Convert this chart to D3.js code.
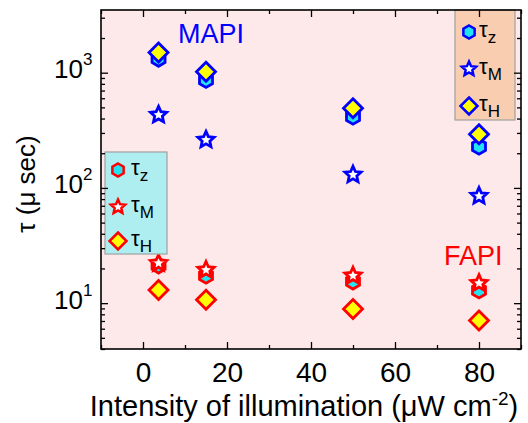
<!DOCTYPE html>
<html>
<head>
<meta charset="utf-8">
<script src="https://cdn.jsdelivr.net/npm/d3@7"></script>
<style>
  body { margin: 0; background: #fff; }
  svg { font-family: "Liberation Sans", Arial, sans-serif; }
</style>
</head>
<body>
<svg id="chart" width="528" height="423"></svg>
<script>
// data
var intensity = [3.7, 15, 50, 80];
var mapiTauZ = [1320, 865, 415, 228];
var mapiTauM = [430, 261, 130, 85];
var mapiTauH = [1500, 1020, 491, 292];
var fapiTauZ = [21.2, 17.3, 15.4, 12.9];
var fapiTauM = [22.2, 19.4, 17.3, 14.9];
var fapiTauH = [13.0, 10.7, 8.9, 7.07];
var xTicks = [0, 20, 40, 60, 80];
var yTicks = [10, 100, 1000];

var margin = {top: 10, right: 7, bottom: 74, left: 101};
var width = 528 - margin.left - margin.right,
    height = 423 - margin.top - margin.bottom;

var svg = d3.select("#chart");
var g = svg.append("g")
  .attr("transform", "translate(" + margin.left + "," + margin.top + ")");

var x = d3.scaleLinear().domain([-10, 90]).range([0, width]);
var y = d3.scaleLog().domain([4, 3500]).range([height, 0]);

// background
g.append("rect")
  .attr("width", width).attr("height", height)
  .attr("fill", "#fde9e9");

// marker shapes
function hexagon(r) {
  var p = [];
  for (var i = 0; i < 6; i++) {
    var a = Math.PI / 3 * i - Math.PI / 2;
    p.push([r * Math.cos(a), r * Math.sin(a)]);
  }
  return "M" + p.join("L") + "Z";
}
function diamond(r) {
  return "M0," + (-r) + "L" + r + ",0L0," + r + "L" + (-r) + ",0Z";
}
function star(r) {
  var p = [], ri = r * 0.47;
  for (var i = 0; i < 10; i++) {
    var a = Math.PI / 5 * i - Math.PI / 2;
    var rr = i % 2 ? ri : r;
    p.push([rr * Math.cos(a), rr * Math.sin(a)]);
  }
  return "M" + p.join("L") + "Z";
}

var series = [
  {vals: fapiTauZ, path: hexagon(7.5), fill: "#22e4f0", stroke: "#ff0000"},
  {vals: fapiTauM, path: star(8.5), fill: "#ffffff", stroke: "#ff0000"},
  {vals: fapiTauH, path: diamond(9.5), fill: "#ffff00", stroke: "#ff0000"},
  {vals: mapiTauZ, path: hexagon(7.5), fill: "#22e4f0", stroke: "#0000ff"},
  {vals: mapiTauM, path: star(8.5), fill: "#ffffff", stroke: "#0000ff"},
  {vals: mapiTauH, path: diamond(9.5), fill: "#ffff00", stroke: "#0000ff"}
];

series.forEach(function(s) {
  g.append("g").selectAll("path")
    .data(s.vals)
    .enter().append("path")
    .attr("d", s.path)
    .attr("transform", function(d, i) { return "translate(" + x(intensity[i]) + "," + y(d) + ")"; })
    .attr("fill", s.fill)
    .attr("stroke", s.stroke)
    .attr("stroke-width", 2.8);
});

// legends
function legend(lx, ly, w, h, bg, stroke, symX, textX, rows) {
  var lg = g.append("g");
  lg.append("rect")
    .attr("x", lx).attr("y", ly).attr("width", w).attr("height", h)
    .attr("fill", bg).attr("stroke", "#a0a0a0").attr("stroke-width", 1.2);
  var items = [
    {path: hexagon(6.5), fill: "#22e4f0", sub: "z"},
    {path: star(7.5), fill: "#ffffff", sub: "M"},
    {path: diamond(8.5), fill: "#ffff00", sub: "H"}
  ];
  items.forEach(function(it, i) {
    lg.append("path")
      .attr("d", it.path)
      .attr("transform", "translate(" + symX + "," + rows[i] + ")")
      .attr("fill", it.fill).attr("stroke", stroke).attr("stroke-width", 2.5);
    var t = lg.append("text")
      .attr("x", textX).attr("y", rows[i] + 5)
      .attr("font-size", 22).attr("fill", "#000");
    t.append("tspan").text("\u03c4");
    t.append("tspan").attr("dy", 6).attr("font-size", 17).text(it.sub);
  });
}
legend(4, 142, 62, 102, "#aeeef0", "#ff0000", 17, 30, [160, 197, 231]);
legend(354, 0, 60, 110, "#f8cdb0", "#0000ff", 368, 378, [22, 59, 96]);

// axes
var xMinor = d3.range(-10, 91, 10).filter(function(v) { return xTicks.indexOf(v) < 0; });
var yMinor = [];
[1, 10, 100, 1000].forEach(function(b) {
  for (var k = 2; k <= 9; k++) {
    var v = b * k;
    if (v >= 4 && v <= 3500) yMinor.push(v);
  }
});

function axis(gen, vals, size) {
  return gen.tickValues(vals).tickSizeInner(-size).tickSizeOuter(0).tickPadding(8)
    .tickFormat("");
}

var ax = g.append("g").attr("transform", "translate(0," + height + ")");
ax.call(axis(d3.axisBottom(x), xTicks, 7));
g.append("g").attr("transform", "translate(0," + height + ")")
  .call(axis(d3.axisBottom(x), xMinor, 4));
g.append("g").call(axis(d3.axisTop(x), xTicks, 7));
g.append("g").call(axis(d3.axisTop(x), xMinor, 4));

var ay = g.append("g");
ay.call(axis(d3.axisLeft(y), yTicks, 7));
g.append("g").call(axis(d3.axisLeft(y), yMinor, 4));
g.append("g").attr("transform", "translate(" + width + ",0)")
  .call(axis(d3.axisRight(y), yTicks, 7));
g.append("g").attr("transform", "translate(" + width + ",0)")
  .call(axis(d3.axisRight(y), yMinor, 4));

g.selectAll(".domain").remove();
g.selectAll(".tick line").attr("stroke", "#000").attr("stroke-width", 1.3);
g.selectAll(".tick text").remove();

// x tick labels
ax.selectAll(".tick").append("text")
  .attr("y", 33).attr("text-anchor", "middle").attr("fill", "#000")
  .attr("font-size", 28)
  .text(function(d) { return d; });

// y tick labels with superscripts
ay.selectAll(".tick").each(function(d) {
  var t = d3.select(this).append("text")
    .attr("x", -18).attr("y", 5)
    .attr("text-anchor", "end").attr("fill", "#000")
    .attr("font-size", 26);
  t.append("tspan").text("10");
  d3.select(this).append("text")
    .attr("x", -18).attr("y", -8)
    .attr("text-anchor", "start").attr("fill", "#000")
    .attr("font-size", 17)
    .text(Math.round(Math.log10(d)));
});

// frame
g.append("rect")
  .attr("width", width).attr("height", height)
  .attr("fill", "none").attr("stroke", "#000").attr("stroke-width", 1.6);

// annotations
g.append("text").attr("x", 77).attr("y", 33)
  .attr("font-size", 27).attr("fill", "#0000ff").text("MAPI");
g.append("text").attr("x", 343).attr("y", 255)
  .attr("font-size", 27).attr("fill", "#ff0000").text("FAPI");

// axis titles
var xt = svg.append("text")
  .attr("x", 304).attr("y", 416)
  .attr("text-anchor", "middle").attr("font-size", 29).attr("fill", "#000");
xt.append("tspan").text("Intensity of illumination (\u03bcW cm");
xt.append("tspan").attr("dy", -11).attr("font-size", 19).text("-2");
xt.append("tspan").attr("dy", 11).text(")");

svg.append("text")
  .attr("transform", "translate(35,184) rotate(-90)")
  .attr("text-anchor", "middle").attr("font-size", 26).attr("fill", "#000")
  .text("\u03c4 (\u03bc sec)");
</script>
</body>
</html>
